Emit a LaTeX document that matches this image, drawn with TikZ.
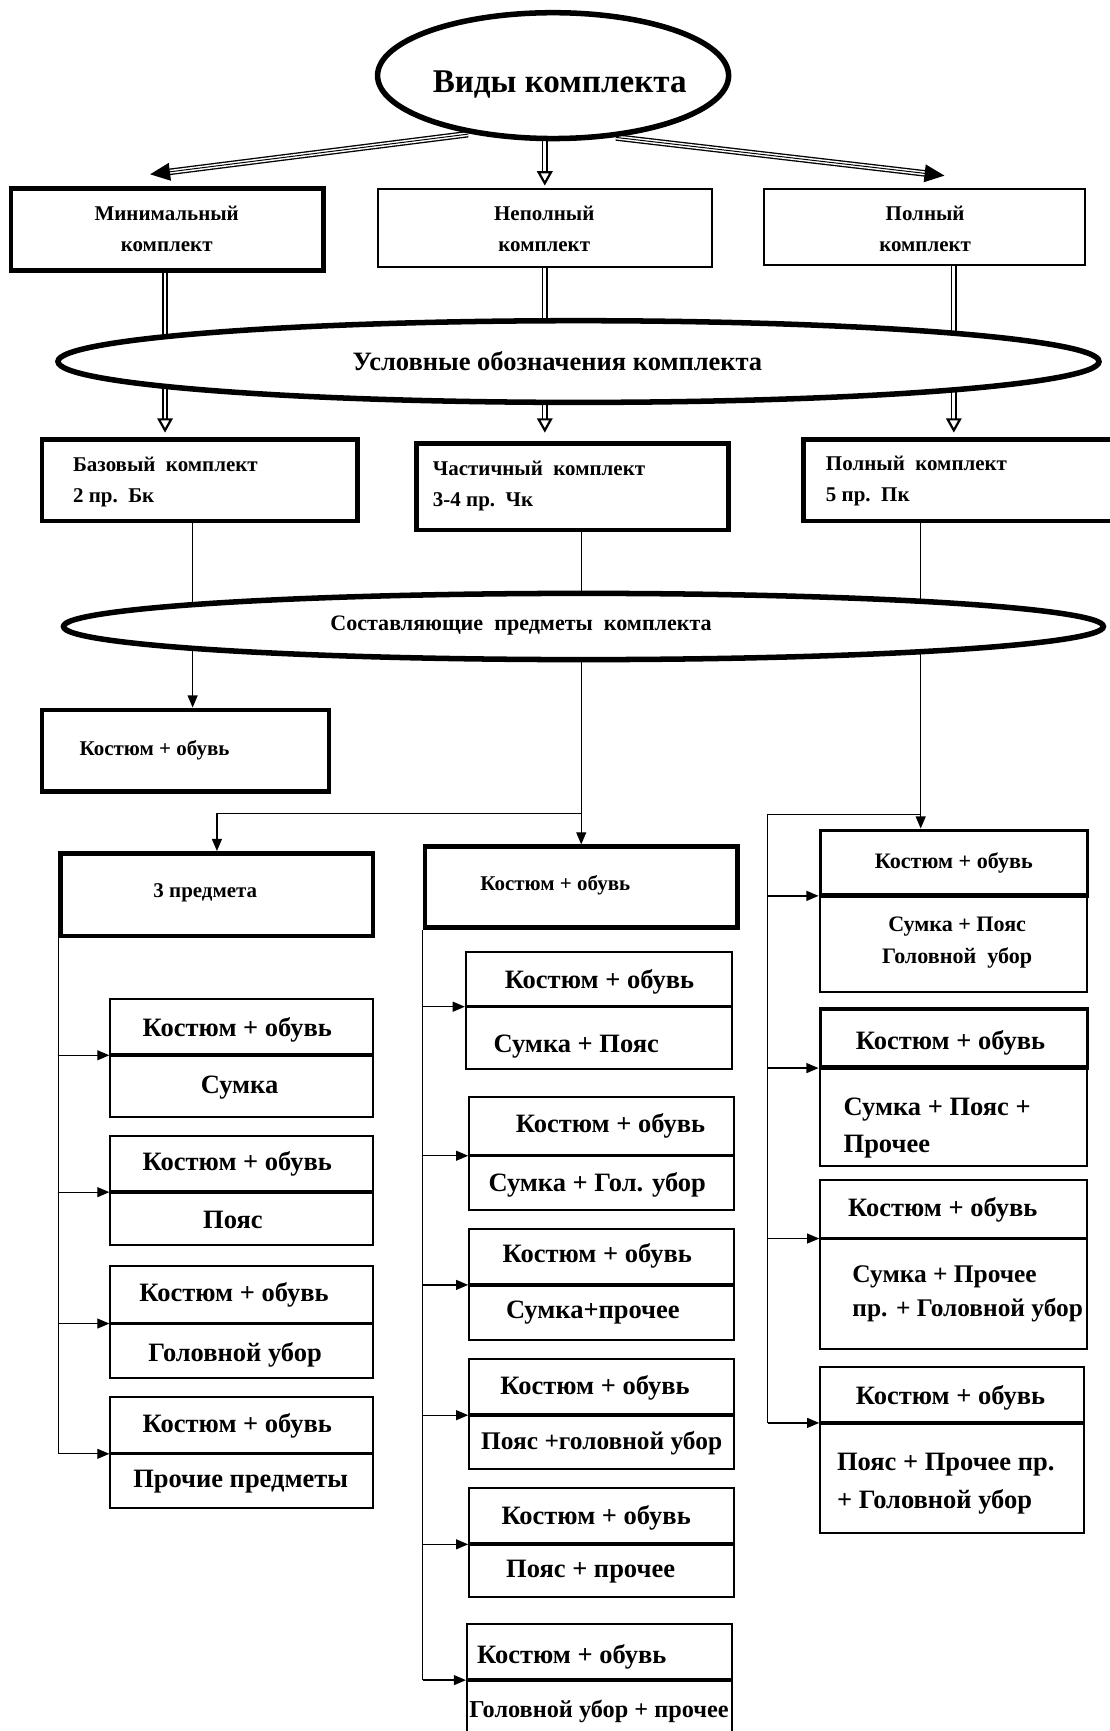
\documentclass[tikz,border=0pt]{standalone}
\usepackage{fontspec}
\setmainfont{Liberation Serif}
\usetikzlibrary{shapes.geometric,arrows.meta,backgrounds,fit}
\tikzset{
  thinbox/.style={draw, line width=1.8pt, fill=white, inner sep=0pt},
  midbox/.style={draw, line width=3pt, fill=white, inner sep=0pt},
  thickbox/.style={draw, line width=4.2pt, fill=white, inner sep=0pt},
  oval/.style={ellipse, draw, line width=5pt, fill=white, inner sep=0pt},
  divl/.style={line width=3pt},
  fxl/.style={inner sep=0pt, font=\bfseries\fontsize{30}{36}\selectfont},
  fs/.style={inner sep=0pt, font=\bfseries\fontsize{19}{28}\selectfont, align=center},
  fm/.style={inner sep=0pt, font=\bfseries\fontsize{20}{29}\selectfont, align=center},
  fl/.style={inner sep=0pt, font=\bfseries\fontsize{24}{34}\selectfont, align=center},
  fk/.style={inner sep=0pt, font=\bfseries\fontsize{23}{31}\selectfont, align=center},
  fj/.style={inner sep=0pt, font=\bfseries\fontsize{22}{30}\selectfont, align=center},
  lft/.style={anchor=west, align=left},
  trip/.style={double=white, double distance=3.6pt, line width=1.2pt, -{Triangle[length=18pt,width=16pt]}},
  tripmid/.style={line width=0.9pt, shorten >=14pt},
  dblv/.style={double=white, double distance=2.6pt, line width=1.3pt, -{Triangle[open, length=13pt, width=14pt, line width=2pt]}},
  con/.style={line width=1.2pt, -{Triangle[length=11pt,width=9pt]}},
  lin/.style={line width=1.2pt},
}
\newcommand\twobox[8]{%
  \node[#7, fit={(#2,#3) (#4,#5)}] (#1t) {};
  \node[#8, fit={(#2,#5) (#4,#6)}] (#1b) {};
  \draw[divl] (#1t.south west) -- (#1t.south east);}
\begin{document}
\begin{tikzpicture}[x=1pt,y=-1pt]
\useasboundingbox (0,0) rectangle (1005,1568);

% ellipses
\node[oval, minimum width=318pt, minimum height=114pt] (e1) at (501,68.5) {};
\node[fxl] (te1) at (507,77) {Виды комплекта};
\node[oval, minimum width=943pt, minimum height=74pt] (e2) at (524,327.5) {};
\node[fl] (te2) at (505,327) {Условные обозначения комплекта};
\node[oval, minimum width=942pt, minimum height=60pt] (e3) at (528.5,567.5) {};
\node[fm] (te3) at (472,567) {Составляющие\ \ предметы\ \ комплекта};

% top row
\node[thickbox, fit={(10,171) (293,245)}] (min) {};
\node[fs] (tmin) at (151,207) {Минимальный\\комплект};
\node[thinbox, fit={(342,171) (645,242)}] (nep) {};
\node[fs] (tnep) at (493,207) {Неполный\\комплект};
\node[thinbox, fit={(692,171) (983,240)}] (pol) {};
\node[fs] (tpol) at (838,207) {Полный\\комплект};

% row 3
\node[thickbox, fit={(38,398) (324,472)}] (bas) {};
\node[fs, lft] (tbas) at (66,437) {Базовый\ \ комплект\\2 пр.\ \ Бк};
\node[thickbox, fit={(377,402) (660,480)}] (cha) {};
\node[fs, lft] (tcha) at (392,440) {Частичный\ \ комплект\\3-4 пр.\ \ Чк};
\node[thickbox, fit={(728,398) (1012,472)}] (pk) {};
\node[fs, lft] (tpk) at (748,436) {Полный\ \ комплект\\5 пр.\ \ Пк};

% row 4
\node[thickbox, fit={(38,643) (298,717)}] (ko) {};
\node[fs, lft] (tko) at (72,680) {Костюм + обувь};
\node[thickbox, fit={(55,773) (338,848)}] (tri) {};
\node[fs] (ttri) at (186,809) {3 предмета};
\node[thickbox, fit={(385,767) (668,840)}] (mk) {};
\node[fs, lft] (tmk) at (435,802) {Костюм + обувь};

% right column
\twobox{R1}{743}{752}{985}{810}{899}{midbox}{thinbox}
\node[fm] (tR1a) at (864,782) {Костюм + обувь};
\node[fm] (tR1b) at (867,854) {Сумка + Пояс\\Головной\ \ убор};
\twobox{R2}{743}{914}{985}{966}{1056}{midbox}{thinbox}
\node[fl] (tR2a) at (861,945) {Костюм + обувь};
\node[fl, lft] (tR2b) at (764,1022) {Сумка + Пояс +\\Прочее};
\twobox{R3}{743}{1069}{985}{1121}{1222}{thinbox}{thinbox}
\node[fl] (tR3a) at (854,1096) {Костюм + обувь};
\node[fk, lft] (tR3b) at (772,1172) {Сумка + Прочее\\пр. + Головной убор};
\twobox{R4}{743}{1238}{982}{1288}{1389}{thinbox}{thinbox}
\node[fl] (tR4a) at (861,1266) {Костюм + обувь};
\node[fl, lft] (tR4b) at (758,1344) {Пояс + Прочее пр.\\+ Головной убор};

% left column
\twobox{L1}{100}{905}{338}{955}{1012}{thinbox}{thinbox}
\node[fl] (tL1a) at (215,933) {Костюм + обувь};
\node[fl] (tL1b) at (217,985) {Сумка};
\twobox{L2}{100}{1029}{338}{1079}{1128}{thinbox}{thinbox}
\node[fl] (tL2a) at (215,1054) {Костюм + обувь};
\node[fl] (tL2b) at (211,1105) {Пояс};
\twobox{L3}{100}{1147}{338}{1198}{1248}{thinbox}{thinbox}
\node[fl] (tL3a) at (212,1173) {Костюм + обувь};
\node[fl] (tL3b) at (213,1227) {Головной убор};
\twobox{L4}{100}{1265}{338}{1316}{1366}{thinbox}{thinbox}
\node[fl] (tL4a) at (215,1292) {Костюм + обувь};
\node[fl] (tL4b) at (218,1342) {Прочие предметы};

% middle column
\twobox{M1}{422}{862}{663}{911}{968}{thinbox}{thinbox}
\node[fl] (tM1a) at (543,889) {Костюм + обувь};
\node[fl] (tM1b) at (522,948) {Сумка + Пояс};
\twobox{M2}{425}{994}{665}{1046}{1096}{thinbox}{thinbox}
\node[fl] (tM2a) at (553,1020) {Костюм + обувь};
\node[fl] (tM2b) at (541,1073) {Сумка + Гол. убор};
\twobox{M3}{425}{1113}{665}{1163}{1214}{thinbox}{thinbox}
\node[fl] (tM3a) at (541,1138) {Костюм + обувь};
\node[fl] (tM3b) at (537,1189) {Сумка+прочее};
\twobox{M4}{425}{1231}{665}{1281}{1331}{thinbox}{thinbox}
\node[fl] (tM4a) at (539,1257) {Костюм + обувь};
\node[fk] (tM4b) at (545,1307) {Пояс +головной убор};
\twobox{M5}{425}{1348}{665}{1398}{1447}{thinbox}{thinbox}
\node[fl] (tM5a) at (540,1375) {Костюм + обувь};
\node[fl] (tM5b) at (535,1424) {Пояс + прочее};
\twobox{M6}{423}{1471}{663}{1521}{1580}{thinbox}{thinbox}
\node[fl, lft] (tM6a) at (432,1501) {Костюм + обувь};
\node[fj, lft] (tM6b) at (425,1550) {Головной убор + прочее};

\begin{scope}[on background layer]
\fill[white] (0,0) rectangle (1005,1568);
% arrows from the top oval
\draw[trip] ([xshift=-77pt,yshift=-53pt]e1.center) -- ([xshift=-15.5pt,yshift=11pt]min.north);
\draw[tripmid] ([xshift=-77pt,yshift=-53pt]e1.center) -- ([xshift=-15.5pt,yshift=11pt]min.north);
\draw[trip] ([xshift=57pt,yshift=-56pt]e1.center) -- ([xshift=18pt,yshift=11pt]pol.north);
\draw[tripmid] ([xshift=57pt,yshift=-56pt]e1.center) -- ([xshift=18pt,yshift=11pt]pol.north);
\draw[dblv] (nep.north |- e1.south) -- ([yshift=2pt]nep.north);
% double lines through the second oval
\draw[dblv] ([xshift=-2pt]min.south) -- ([xshift=-2pt,yshift=4pt]min.south |- bas.north);
\draw[dblv] (nep.south) -- ([yshift=8pt]nep.south |- cha.north);
\draw[dblv] ([xshift=26.5pt]pol.south) -- ([xshift=26.5pt,yshift=4pt]pol.south |- pk.north);
% thin connectors
\draw[con] ([xshift=-6.5pt]bas.south) -- ([xshift=-6.5pt]bas.south |- ko.north);
\draw[con] (mk.north |- cha.south) -- (mk.north);
\coordinate (jm) at (526.5,737);
\draw[con] (jm) -| (tri.north);
\coordinate (jr) at (834,738);
\draw[con] (pk.south -| jr) -- (R1t.north -| jr);
\coordinate (rt) at (695.5,738);
\draw[lin] (jr) -- (rt) -- (rt |- R4t.south);
\foreach \r in {R1,R2,R3,R4} \draw[con] (rt |- \r t.south) -- (\r t.south west);
\draw[lin] (tri.south west) -- (tri.south west |- L4t.south);
\foreach \r in {L1,L2,L3,L4} \draw[con] (tri.south west |- \r t.south) -- (\r t.south west);
\draw[lin] (mk.south west) -- (mk.south west |- M6t.south);
\foreach \r in {M1,M2,M3,M4,M5,M6} \draw[con] (mk.south west |- \r t.south) -- (\r t.south west);
\end{scope}
\end{tikzpicture}
\end{document}
